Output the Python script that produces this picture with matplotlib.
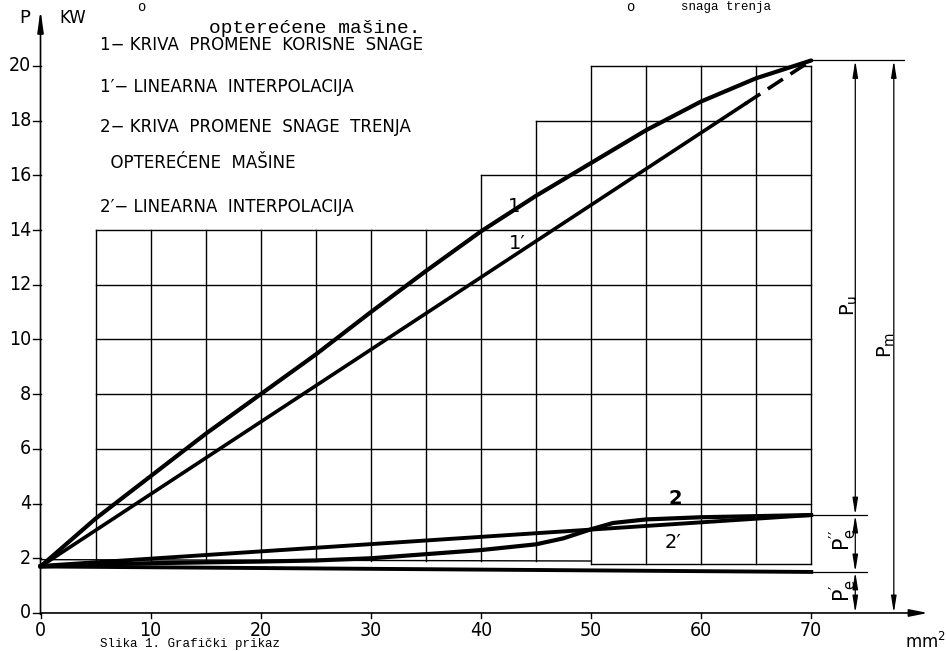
import numpy as np
import matplotlib
matplotlib.use("Agg")
import matplotlib.pyplot as plt

plt.rcParams['mathtext.default'] = 'regular'

# ---------------- data ----------------
x_ticks = [0, 10, 20, 30, 40, 50, 60, 70]
y_ticks = [0, 2, 4, 6, 8, 10, 12, 14, 16, 18, 20]

# curve 1 : useful power
c1_x = [0, 5, 10, 15, 20, 25, 30, 35, 40, 45, 50, 55, 60, 65, 70]
c1_y = [1.7, 3.45, 5.0, 6.55, 8.0, 9.45, 11.0, 12.5, 13.95, 15.25, 16.45, 17.65, 18.7, 19.55, 20.2]
# curve 1' : linear interpolation
c1p_x = [0, 70]
c1p_y = [1.7, 20.2]
# curve 2 : friction power of loaded machine
c2_x = [0, 5, 10, 15, 20, 25, 30, 35, 40, 45, 47.5, 50, 52, 55, 60, 65, 70]
c2_y = [1.7, 1.78, 1.82, 1.85, 1.88, 1.92, 2.0, 2.15, 2.3, 2.51, 2.73, 3.06, 3.29, 3.42, 3.5, 3.54, 3.58]
# curve 2' : linear interpolation
c2p_x = [0, 70]
c2p_y = [1.72, 3.58]
# base friction line (P'e)
base_x = [0, 70]
base_y = [1.7, 1.5]

# staircase grid
grid_cols = [5, 10, 15, 20, 25, 30, 35, 40, 45, 50, 55, 60, 65, 70]
step_x = [5, 40, 45, 50, 70]
step_top = [14, 16, 18, 20]
grid_rows = [4, 6, 8, 10, 12, 14, 16, 18, 20]

legend_lines = ["1\u2212 KRIVA  PROMENE  KORISNE  SNAGE",
                "1\u2032\u2212 LINEARNA  INTERPOLACIJA",
                "2\u2212 KRIVA  PROMENE  SNAGE  TRENJA",
                "  OPTERE\u0106ENE  MA\u0160INE",
                "2\u2032\u2212 LINEARNA  INTERPOLACIJA"]

# ---------------- figure ----------------
fig = plt.figure(figsize=(9.46, 6.51), dpi=100)
ax = fig.add_axes([0, 0, 1, 1])
ax.set_xlim(-3.68, 82.24)
ax.set_ylim(-1.39, 22.41)
ax.axis('off')

K = 'black'
num_font = ['DejaVu Sans']
lab_font = ['DejaVu Sans']
mono = ['Liberation Mono', 'DejaVu Sans Mono']

# ---- grid ----
def col_top(x):
    for i in range(len(step_top)):
        if step_x[i] <= x < step_x[i + 1]:
            t = step_top[i]
            if i > 0 and x == step_x[i]:
                t = max(t, step_top[i - 1])
            return t
    return step_top[-1]

for x in grid_cols:
    bot = 1.9 if x < 50 else 1.8
    ax.plot([x, x], [bot, col_top(x)], color=K, lw=1.0)
for y in grid_rows:
    xs = [step_x[i] for i in range(len(step_top)) if step_top[i] >= y]
    ax.plot([min(xs), step_x[-1]], [y, y], color=K, lw=1.0)
ax.plot([0, 50], [1.95, 1.9], color=K, lw=1.0)
ax.plot([50, 70], [1.8, 1.8], color=K, lw=1.0)

# ---- axes ----
ax.annotate('', xy=(0, 22.05), xytext=(0, -0.05),
            arrowprops=dict(arrowstyle='-|>,head_length=1.3,head_width=0.18',
                            lw=1.2, color=K, shrinkA=0, shrinkB=0))
ax.annotate('', xy=(80.6, 0), xytext=(0, 0),
            arrowprops=dict(arrowstyle='-|>,head_length=1.1,head_width=0.22',
                            lw=1.2, color=K, shrinkA=0, shrinkB=0))
for y in y_ticks:
    ax.plot([-0.68, 0], [y, y], color=K, lw=1.0)
    ax.text(-0.85, y, f"{y}", ha='right', va='center', fontsize=14,
            family=num_font, stretch='condensed', color=K)
for x in x_ticks:
    ax.plot([x, x], [0, -0.2], color=K, lw=1.0)
    ax.text(x, -0.28, f"{x}", ha='center', va='top', fontsize=14,
            family=num_font, stretch='condensed', color=K)
ax.text(-1.4, 21.75, "P", ha='center', va='center', fontsize=13, family=lab_font)
ax.text(2.9, 21.75, "KW", ha='center', va='center', fontsize=12, family=num_font)
ax.text(78.55, -1.05, "mm$^2$", ha='left', va='center', fontsize=12, family=lab_font)

# ---- curves ----
ax.plot(c1_x, c1_y, color=K, lw=3.0, solid_capstyle='round', solid_joinstyle='round')
x_dash = 64
y_dash = np.interp(x_dash, c1p_x, c1p_y)
ax.plot([c1p_x[0], x_dash], [c1p_y[0], y_dash], color=K, lw=2.6)
ax.plot([x_dash, c1p_x[-1]], [y_dash, c1p_y[-1]], color=K, lw=2.6,
        dashes=(5, 2.5))
ax.plot(c2_x, c2_y, color=K, lw=3.0, solid_capstyle='round', solid_joinstyle='round')
ax.plot(c2p_x, c2p_y, color=K, lw=2.8)
ax.plot(base_x, base_y, color=K, lw=2.8)

# curve labels
ax.text(43.0, 14.85, "1", ha='center', va='center', fontsize=14, family=num_font)
ax.text(43.3, 13.5, "1\u2032", ha='center', va='center', fontsize=14, family=num_font)
ax.text(57.7, 4.2, "2", ha='center', va='center', fontsize=14, family=num_font,
        fontweight='bold')
ax.text(57.4, 2.56, "2\u2032", ha='center', va='center', fontsize=14, family=num_font)

# ---- dimension lines ----
ax.plot([70, 78.4], [20.2, 20.2], color=K, lw=0.9)
ax.plot([70, 75.1], [c2_y[-1], c2_y[-1]], color=K, lw=0.9)
ax.plot([70, 75.1], [base_y[-1], base_y[-1]], color=K, lw=0.9)
dim_style = '<|-|>,head_length=1.0,head_width=0.16'
for (x, y0, y1) in [(74.0, 20.2, c2_y[-1]), (74.0, c2_y[-1], base_y[-1]),
                    (74.0, base_y[-1], 0.0), (77.5, 20.2, 0.0)]:
    ax.annotate('', xy=(x, y0), xytext=(x, y1),
                arrowprops=dict(arrowstyle=dim_style, lw=0.9, color=K,
                                shrinkA=0, shrinkB=0))
ax.text(73.45, 11.25, "P$_u$", rotation=90, ha='center', va='center', fontsize=14,
        family=lab_font)
ax.text(76.8, 9.8, "P$_m$", rotation=90, ha='center', va='center', fontsize=14,
        family=lab_font)
ax.text(72.9, 2.67, r"$P_e^{\prime\prime}$", rotation=90, ha='center', va='center',
        fontsize=15, family=lab_font)
ax.text(72.9, 0.84, r"$P_e^{\prime}$", rotation=90, ha='center', va='center',
        fontsize=15, family=lab_font)

# ---- legend text ----
leg_y = [20.77, 19.23, 17.77, 16.45, 14.84]
for t, y in zip(legend_lines, leg_y):
    ax.text(5.4, y, t, ha='left', va='center', fontsize=12, family=lab_font)

# ---- typewritten caption fragments ----
ax.text(24.9, 21.35, "optere\u0107ene ma\u0161ine.", ha='center', va='center',
        fontsize=14, family=mono)
ax.text(9.2, 22.15, "o", ha='center', va='center', fontsize=10, family=mono)
ax.text(53.6, 22.15, "o", ha='center', va='center', fontsize=10, family=mono)
ax.text(58.2, 22.38, "snaga trenja", ha='left', va='top', fontsize=9, family=mono)
ax.text(5.4, -1.37, "Slika 1. Grafi\u010dki prikaz", ha='left', va='bottom',
        fontsize=9, family=mono)

fig.savefig("out.png", dpi=100)
